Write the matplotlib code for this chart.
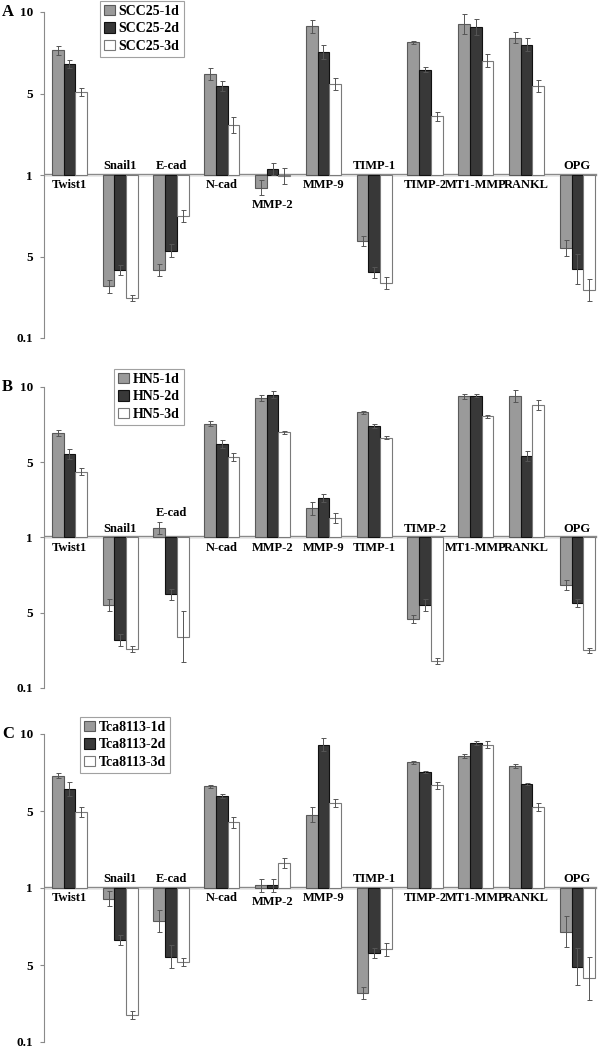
import numpy as np
import matplotlib.pyplot as plt

plt.rcParams['font.family'] = ['Liberation Serif', 'DejaVu Serif']
plt.rcParams['font.weight'] = 'bold'

genes = ['Twist1', 'Snail1', 'E-cad', 'N-cad', 'MMP-2', 'MMP-9',
         'TIMP-1', 'TIMP-2', 'MT1-MMP', 'RANKL', 'OPG']

# axis units: 0 = fold 1, +10 = 10-fold up, -10 = 10-fold down (0.1)
ytick_vals = [-10, -5, 0, 5, 10]
ytick_labels = ['0.1', '5', '1', '5', '10']

# panel A - SCC25
a_names = ['SCC25-1d', 'SCC25-2d', 'SCC25-3d']
a_1d = [7.64, -6.82, -5.82, 6.20, -0.77, 9.12, -4.03, 8.15, 9.28, 8.42, -4.48]
a_2d = [6.82, -5.82, -4.64, 5.48, 0.39, 7.54, -5.97, 6.47, 9.08, 8.00, -5.76]
a_3d = [5.11, -7.54, -2.50, 3.06, -0.08, 5.59, -6.64, 3.59, 7.02, 5.48, -7.05]
a_1d_err = [0.30, 0.40, 0.35, 0.35, 0.45, 0.40, 0.30, 0.10, 0.60, 0.35, 0.50]
a_2d_err = [0.25, 0.30, 0.40, 0.30, 0.37, 0.45, 0.35, 0.15, 0.50, 0.40, 0.90]
a_3d_err = [0.25, 0.20, 0.37, 0.50, 0.50, 0.37, 0.37, 0.25, 0.40, 0.37, 0.67]

# panel B - HN5
b_names = ['HN5-1d', 'HN5-2d', 'HN5-3d']
b_1d = [6.93, -4.51, 0.64, 7.56, 9.27, 1.93, 8.31, -5.40, 9.38, 9.42, -3.13]
b_2d = [5.53, -6.80, -3.78, 6.20, 9.49, 2.64, 7.42, -4.51, 9.42, 5.42, -4.33]
b_3d = [4.38, -7.40, -6.58, 5.33, 6.98, 1.31, 6.64, -8.20, 8.04, 8.82, -7.49]
b_1d_err = [0.18, 0.40, 0.40, 0.15, 0.18, 0.44, 0.11, 0.27, 0.18, 0.40, 0.33]
b_2d_err = [0.33, 0.40, 0.38, 0.27, 0.22, 0.27, 0.13, 0.40, 0.09, 0.33, 0.27]
b_3d_err = [0.22, 0.22, 1.67, 0.27, 0.09, 0.33, 0.11, 0.22, 0.13, 0.33, 0.18]

# panel C - Tca8113
c_names = ['Tca8113-1d', 'Tca8113-2d', 'Tca8113-3d']
c_1d = [7.29, -0.70, -2.13, 6.60, 0.17, 4.76, -6.85, 8.16, 8.59, 7.90, -2.83]
c_2d = [6.43, -3.37, -4.46, 5.95, 0.17, 9.31, -4.24, 7.51, 9.42, 6.75, -5.11]
c_3d = [4.91, -8.26, -4.83, 4.26, 1.62, 5.52, -3.98, 6.67, 9.31, 5.26, -5.87]
c_1d_err = [0.17, 0.48, 0.72, 0.11, 0.43, 0.48, 0.39, 0.09, 0.13, 0.13, 0.98]
c_2d_err = [0.43, 0.33, 0.76, 0.13, 0.43, 0.43, 0.33, 0.06, 0.13, 0.06, 1.20]
c_3d_err = [0.32, 0.26, 0.26, 0.37, 0.32, 0.26, 0.43, 0.22, 0.22, 0.26, 1.41]

face = ['#9a9a9a', '#383838', 'white']
edge = ['#5a5a5a', '#111111', '#7a7a7a']
W = 609
H = 1049


def draw_panel(rect, series, errs, names, letter, leg_xy):
    ax = fig.add_axes(rect)
    x = np.arange(len(genes))
    width = 0.23
    ax.axhline(0, xmin=0, xmax=0.988, color='#8a8a8a', lw=1.7, zorder=1)
    ax.axhline(0, xmin=0, xmax=0.986, color='white', lw=0.5, zorder=1)
    for k in range(3):
        xs = x + (k - 1) * width
        ax.bar(xs, series[k], width, color=face[k], edgecolor=edge[k],
               linewidth=0.8, label=names[k], zorder=2)
        ax.errorbar(xs, series[k], yerr=errs[k], fmt='none', ecolor='#555555',
                    elinewidth=0.7, capsize=1.8, capthick=0.7, zorder=3)
    # gene labels next to the baseline
    vals = np.array(series)
    ers = np.array(errs)
    for i, g in enumerate(genes):
        lo = (vals[:, i] - ers[:, i]).min()
        hi = (vals[:, i] + ers[:, i]).max()
        if lo > -1.5:
            ax.annotate(g, (i, min(0, lo)), xytext=(0, -3), textcoords='offset points',
                        ha='center', va='top', fontsize=9, fontweight='bold')
        else:
            ax.annotate(g, (i, max(0, hi)), xytext=(0, 2), textcoords='offset points',
                        ha='center', va='bottom', fontsize=9, fontweight='bold')
    ax.set_xlim(-0.5, 10.5)
    ax.set_ylim(-10, 10)
    ax.set_yticks(ytick_vals)
    ax.set_yticklabels(ytick_labels, fontsize=9.5, fontweight='bold')
    ax.set_xticks([])
    for s in ['top', 'right', 'bottom']:
        ax.spines[s].set_visible(False)
    ax.spines['left'].set_color('#8a8a8a')
    ax.spines['left'].set_linewidth(0.8)
    ax.tick_params(axis='y', direction='out', length=3, width=0.8, color='#8a8a8a', pad=5)
    top = rect[1] + rect[3]
    fig.text(2 / W, top, letter, fontsize=12, fontweight='bold', ha='left', va='center')
    leg = ax.legend(loc='upper left', bbox_to_anchor=leg_xy, bbox_transform=fig.transFigure,
                    fontsize=10, frameon=True, fancybox=False, edgecolor='#8a8a8a',
                    handlelength=0.75, handleheight=0.75, handletextpad=0.3,
                    labelspacing=0.3, borderpad=0.3, borderaxespad=0)
    leg.get_frame().set_linewidth(0.8)
    return ax


fig = plt.figure(figsize=(W / 100, H / 100), dpi=100)
left = 44 / W
width = 558.8 / W

draw_panel([left, 1 - 338 / H, width, (338 - 12) / H],
           [a_1d, a_2d, a_3d], [a_1d_err, a_2d_err, a_3d_err], a_names, 'A',
           (100 / W, 1 - 1 / H))
draw_panel([left, 1 - 688 / H, width, (688 - 387) / H],
           [b_1d, b_2d, b_3d], [b_1d_err, b_2d_err, b_3d_err], b_names, 'B',
           (114 / W, 1 - 369 / H))
draw_panel([left, 1 - 1042 / H, width, (1042 - 734) / H],
           [c_1d, c_2d, c_3d], [c_1d_err, c_2d_err, c_3d_err], c_names, 'C',
           (80 / W, 1 - 717 / H))

fig.savefig('out.png', dpi=100)
